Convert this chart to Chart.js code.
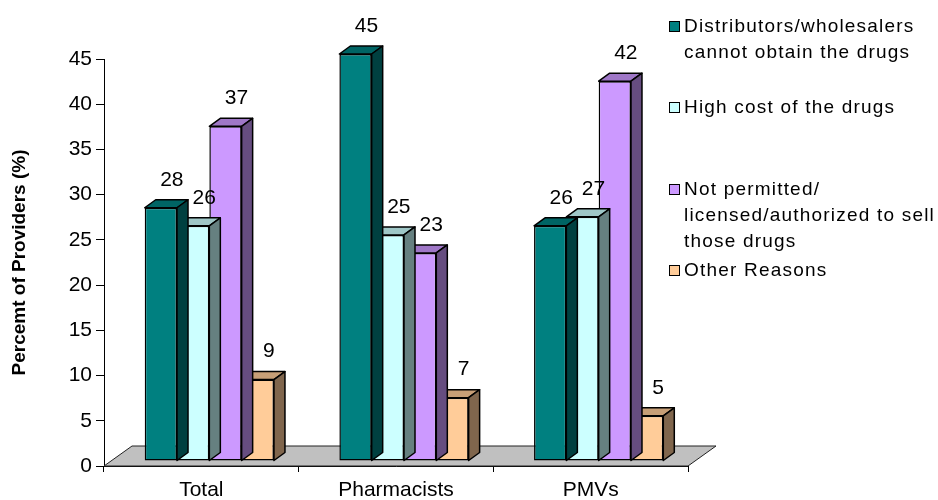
<!DOCTYPE html>
<html>
<head>
<meta charset="utf-8">
<title>Reasons for not stocking the drugs</title>
<script src="https://cdn.jsdelivr.net/npm/chart.js@4"></script>
<style>
  body { margin: 0; background: #fff; }
  #wrap { position: relative; width: 938px; height: 500px; overflow: hidden; }
  #legend {
    position: absolute; left: 669px; top: 13px; width: 269px;
    font-family: "Liberation Sans", Arial, sans-serif;
    font-size: 19px; letter-spacing: 1.2px; color: #000;
  }
  .item { position: relative; height: 81.3px; padding-left: 15px; line-height: 26px; white-space: pre; }
  .swatch { position: absolute; left: 0; top: 8px; width: 9px; height: 9px; border: 1px solid #000; }
</style>
</head>
<body>
<div id="wrap">
  <canvas id="reasonsChart" width="938" height="500"></canvas>
  <div id="legend"></div>
</div>
<script>
// Categories and the percentage values for each reason
const categories = ['Total', 'Pharmacists', 'PMVs'];
const distributorsValues = [28, 45, 26];
const highCostValues = [26, 25, 27];
const notPermittedValues = [37, 23, 42];
const otherReasonsValues = [9, 7, 5];
const seriesNames = [
    'Distributors/wholesalers\ncannot obtain the drugs',
    'High cost of the drugs',
    'Not permitted/\nlicensed/authorized to sell\nthose drugs',
    'Other Reasons'
];
const yMax = 45;
const yStep = 5;

// Front face colours; tops and sides are darker shades
const frontColors = ['#008080', '#CCFFFF', '#CC99FF', '#FFCC99'];

const FONT = '"Liberation Sans", Arial, sans-serif';
const DEPTH_X = 11, DEPTH_Y = -8;      // bar depth
const SHIFT_X = 8, SHIFT_Y = -5;       // bars sit part way back on the floor
const FLOOR_X = 28, FLOOR_Y = -20;     // floor depth

function shade(hex, f) {
    const n = parseInt(hex.slice(1), 16);
    const r = Math.round(((n >> 16) & 255) * f);
    const g = Math.round(((n >> 8) & 255) * f);
    const b = Math.round((n & 255) * f);
    return `rgb(${r},${g},${b})`;
}

// Grey floor under the bars
const floorPlugin = {
    id: 'floor',
    beforeDatasetsDraw(chart) {
        const ctx = chart.ctx;
        const area = chart.chartArea;
        const y0 = chart.scales.y.getPixelForValue(0);
        ctx.save();
        ctx.beginPath();
        ctx.moveTo(area.left, y0);
        ctx.lineTo(area.left + FLOOR_X, y0 + FLOOR_Y);
        ctx.lineTo(area.right + FLOOR_X, y0 + FLOOR_Y);
        ctx.lineTo(area.right, y0);
        ctx.closePath();
        ctx.fillStyle = '#C0C0C0';
        ctx.fill();
        ctx.strokeStyle = '#222';
        ctx.lineWidth = 1;
        ctx.stroke();
        ctx.restore();
        // shift the bars back onto the floor
        ctx.save();
        ctx.translate(SHIFT_X, SHIFT_Y);
    },
    afterDatasetDraw(chart, args) {
        // tops and right-hand sides of each bar in this series
        const ctx = chart.ctx;
        const color = frontColors[args.index];
        args.meta.data.forEach(bar => {
            const left = bar.x - bar.width / 2;
            const right = bar.x + bar.width / 2;
            ctx.lineWidth = 1.5;
            ctx.strokeStyle = '#000';
            ctx.lineJoin = 'round';

            ctx.beginPath();
            ctx.moveTo(left, bar.y);
            ctx.lineTo(left + DEPTH_X, bar.y + DEPTH_Y);
            ctx.lineTo(right + DEPTH_X, bar.y + DEPTH_Y);
            ctx.lineTo(right, bar.y);
            ctx.closePath();
            ctx.fillStyle = shade(color, 0.78);
            ctx.fill();
            ctx.stroke();

            ctx.beginPath();
            ctx.moveTo(right, bar.y);
            ctx.lineTo(right + DEPTH_X, bar.y + DEPTH_Y);
            ctx.lineTo(right + DEPTH_X, bar.base + DEPTH_Y);
            ctx.lineTo(right, bar.base);
            ctx.closePath();
            ctx.fillStyle = shade(color, 0.5);
            ctx.fill();
            ctx.stroke();
        });
    },
    afterDatasetsDraw(chart) {
        const ctx = chart.ctx;
        ctx.restore();
        // value labels above the bars
        ctx.save();
        ctx.font = `21px ${FONT}`;
        ctx.fillStyle = '#000';
        ctx.textAlign = 'center';
        ctx.textBaseline = 'middle';
        chart.data.datasets.forEach((ds, i) => {
            chart.getDatasetMeta(i).data.forEach((bar, j) => {
                ctx.fillText(String(ds.data[j]), bar.x + SHIFT_X + 11, bar.y + SHIFT_Y - 28);
            });
        });
        ctx.restore();
    }
};

const allSeries = [distributorsValues, highCostValues, notPermittedValues, otherReasonsValues];

const chart = new Chart(document.getElementById('reasonsChart'), {
    type: 'bar',
    data: {
        labels: categories,
        datasets: allSeries.map((values, i) => ({
            label: seriesNames[i],
            data: values,
            backgroundColor: frontColors[i],
            borderColor: '#000',
            borderWidth: 1.5,
            borderSkipped: false,
            categoryPercentage: 0.664,
            barPercentage: 1.0,
            clip: false
        }))
    },
    options: {
        responsive: false,
        animation: false,
        layout: { padding: { top: 59, right: 250, left: 0, bottom: 0 } },
        plugins: {
            legend: { display: false },
            tooltip: { enabled: false }
        },
        scales: {
            x: {
                grid: { display: true, offset: true, drawOnChartArea: false, tickLength: 6, color: '#000' },
                border: { color: '#000', width: 1 },
                ticks: { color: '#000', font: { family: FONT, size: 21 }, padding: 6 },
                afterFit(scale) { scale.height = 34; }
            },
            y: {
                min: 0,
                max: yMax,
                ticks: { stepSize: yStep, color: '#000', font: { family: FONT, size: 21 }, padding: 4 },
                grid: { drawOnChartArea: false, tickLength: 8, color: '#000' },
                border: { color: '#000', width: 1 },
                title: {
                    display: true,
                    text: 'Percemt of Providers (%)',
                    color: '#000',
                    font: { family: FONT, size: 19, weight: 'bold' },
                    padding: { top: 8, bottom: 0 }
                },
                afterFit(scale) { scale.width = 104; }
            }
        }
    },
    plugins: [floorPlugin]
});

// Legend on the right, one block per series
const legend = document.getElementById('legend');
seriesNames.forEach((name, i) => {
    const item = document.createElement('div');
    item.className = 'item';
    item.innerHTML = `<span class="swatch" style="background:${frontColors[i]}"></span>${name}`;
    legend.appendChild(item);
});
</script>
</body>
</html>
